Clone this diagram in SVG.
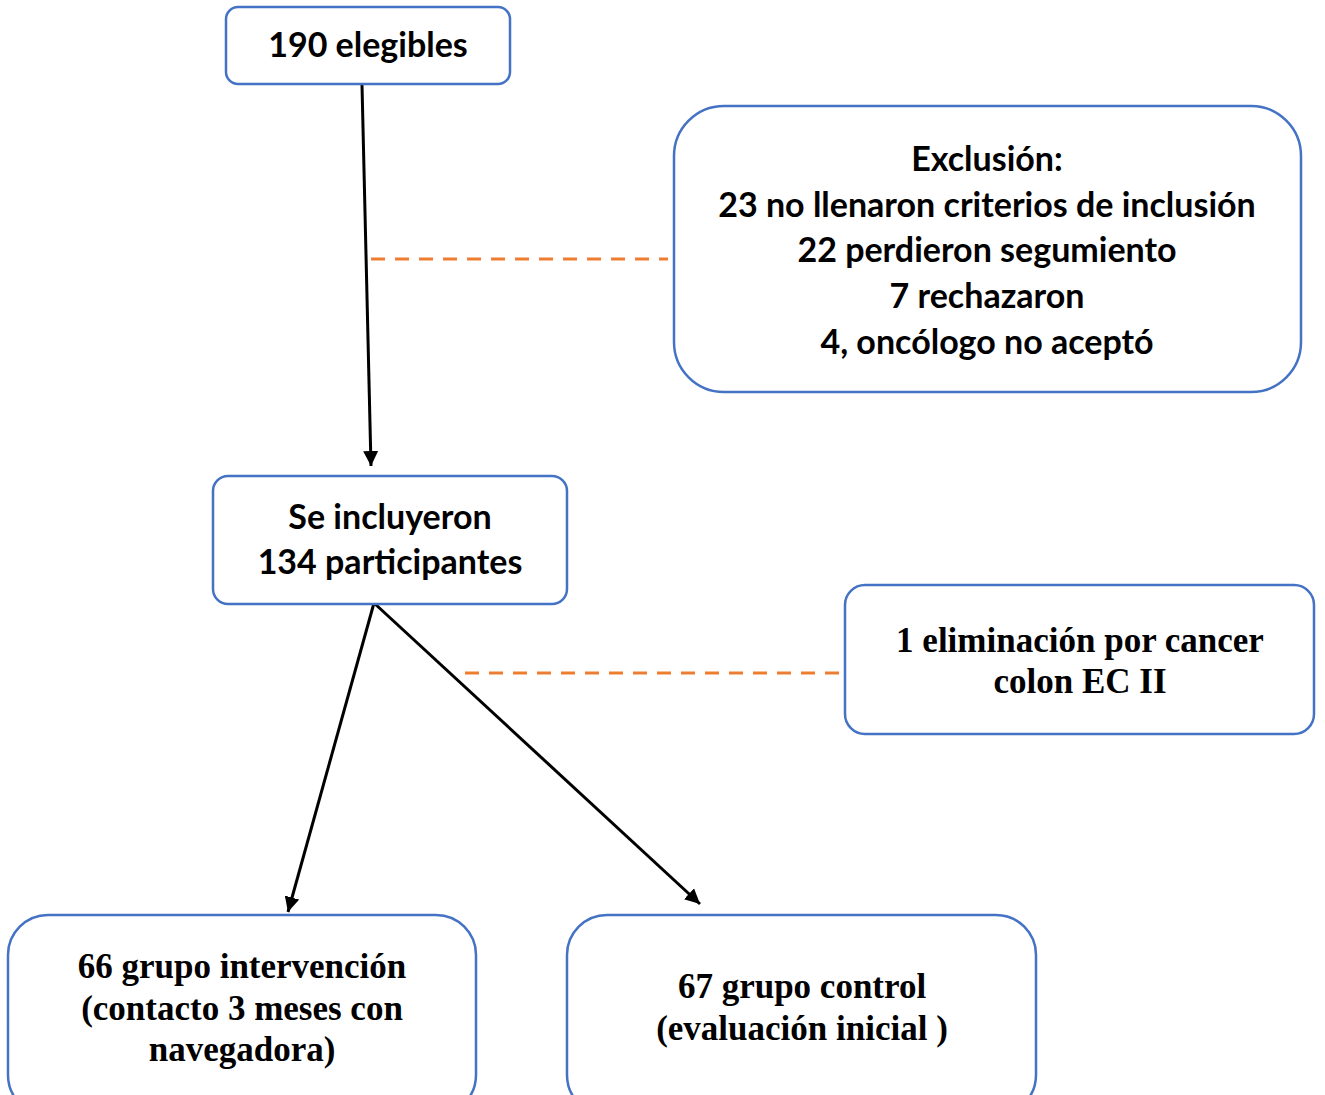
<svg xmlns="http://www.w3.org/2000/svg" width="1325" height="1095" viewBox="0 0 1325 1095">
<defs>
<marker id="ah" viewBox="0 0 10 10" refX="10" refY="5" markerWidth="5" markerHeight="5" markerUnits="strokeWidth" orient="auto">
<path d="M0,0 L10,5 L0,10 z" fill="#000"/>
</marker>
<style>
.box{fill:#fff;stroke:#4472C4;stroke-width:2.5}
.sans{font-family:Lato,"Liberation Sans",sans-serif;font-weight:bold;font-size:34px;fill:#000;text-anchor:middle}
.serif{font-family:"Liberation Serif",serif;font-weight:bold;font-size:35px;fill:#000;text-anchor:middle}
.arrow{stroke:#000;stroke-width:3;fill:none;marker-end:url(#ah)}
.dash{stroke:#ED7D31;stroke-width:3;fill:none;stroke-dasharray:14,10}
</style>
</defs>
<rect width="1325" height="1095" fill="#fff"/>
<g id="connectors">
<line class="arrow" x1="362" y1="85" x2="371" y2="466"/>
<line class="dash" x1="371" y1="259" x2="668" y2="259"/>
<line class="arrow" x1="374" y1="603" x2="288" y2="912"/>
<line class="arrow" x1="374" y1="603" x2="700" y2="904"/>
<line class="dash" x1="465" y1="673" x2="845" y2="673"/>
</g>
<g id="n1">
<rect class="box" x="226" y="7" width="284" height="77" rx="12"/>
<text class="sans" x="368" y="57">190 elegibles</text>
</g>
<g id="n_exclusion">
<rect class="box" x="674" y="106" width="627" height="286" rx="50"/>
<text class="sans" x="987" y="171">Exclusión:</text>
<text class="sans" x="987" y="217">23 no llenaron criterios de inclusión</text>
<text class="sans" x="987" y="262">22 perdieron segumiento</text>
<text class="sans" x="987" y="308">7 rechazaron</text>
<text class="sans" x="987" y="354">4, oncólogo no aceptó</text>
</g>
<g id="n2">
<rect class="box" x="213" y="476" width="354" height="128" rx="15"/>
<text class="sans" x="390" y="529">Se incluyeron</text>
<text class="sans" x="390" y="574">134 participantes</text>
</g>
<g id="n_elim">
<rect class="box" x="845" y="585" width="469" height="149" rx="20"/>
<text class="serif" x="1080" y="652">1 eliminación por cancer</text>
<text class="serif" x="1080" y="693">colon EC II</text>
</g>
<g id="n66">
<rect class="box" x="8" y="915" width="468" height="200" rx="40"/>
<text class="serif" x="242" y="978">66 grupo intervención</text>
<text class="serif" x="242" y="1020">(contacto 3 meses con</text>
<text class="serif" x="242" y="1061">navegadora)</text>
</g>
<g id="n67">
<rect class="box" x="567" y="915" width="469" height="200" rx="40"/>
<text class="serif" x="802" y="998">67 grupo control</text>
<text class="serif" x="802" y="1040">(evaluación inicial )</text>
</g>
</svg>
